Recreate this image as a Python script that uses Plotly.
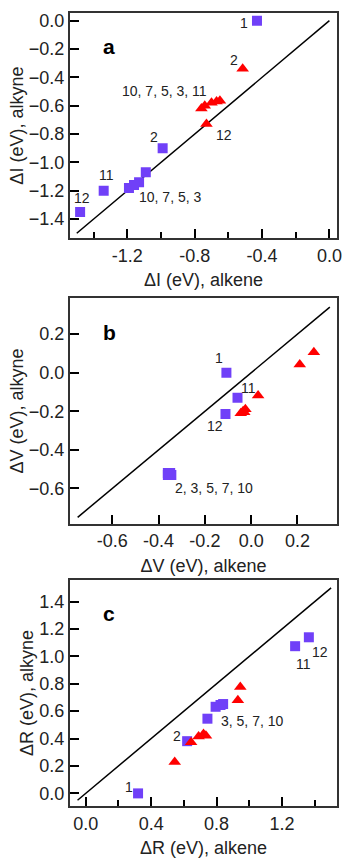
import plotly.graph_objects as go

# Panel a: ionization energy shifts
a_blue_x = [-0.43, -0.99, -1.09, -1.13, -1.16, -1.19, -1.34, -1.48]
a_blue_y = [0.00, -0.90, -1.07, -1.14, -1.16, -1.18, -1.20, -1.35]
a_red_x = [-0.515, -0.73, -0.76, -0.74, -0.70, -0.67, -0.65]
a_red_y = [-0.34, -0.73, -0.62, -0.60, -0.58, -0.57, -0.565]

# Panel b
b_blue_x = [-0.107, -0.059, -0.111, -0.36, -0.355, -0.35, -0.345, -0.36]
b_blue_y = [0.00, -0.13, -0.214, -0.52, -0.525, -0.52, -0.53, -0.53]
b_red_x = [0.271, 0.21, 0.03, -0.045, -0.035, -0.025, -0.03]
b_red_y = [0.106, 0.043, -0.118, -0.21, -0.20, -0.19, -0.205]

# Panel c
c_blue_x = [0.32, 0.62, 0.744, 0.794, 0.824, 0.84, 1.28, 1.364]
c_blue_y = [0.00, 0.381, 0.545, 0.632, 0.645, 0.652, 1.074, 1.139]
c_red_x = [0.544, 0.644, 0.69, 0.72, 0.735, 0.93, 0.945]
c_red_y = [0.229, 0.374, 0.415, 0.434, 0.42, 0.68, 0.777]

# diagonal lines
a_line = [-1.5, 0.0]
b_line = [-0.75, 0.34]
c_line = [-0.05, 1.5]

# labels: (text, x, y)
a_labels = [("1", -0.505, -0.02), ("2", -0.569, -0.275),
            ("10, 7, 5, 3, 11", -0.98, -0.497), ("12", -0.627, -0.807),
            ("2", -1.04, -0.819), ("11", -1.326, -1.092),
            ("10, 7, 5, 3", -0.947, -1.243), ("12", -1.471, -1.25)]
b_labels = [("1", -0.14, 0.077), ("11", -0.012, -0.079),
            ("12", -0.158, -0.274), ("2, 3, 5, 7, 10", -0.161, -0.598)]
c_labels = [("1", 0.264, 0.043), ("2", 0.558, 0.422),
            ("3, 5, 7, 10", 1.018, 0.526), ("11", 1.334, 0.946),
            ("12", 1.434, 1.033)]

BLUE = "#7040F8"
RED = "#FF0000"
FONT = "Liberation Sans, Arial, sans-serif"
TXT = "#222"

fig = go.Figure()

panels = [
    (a_blue_x, a_blue_y, a_red_x, a_red_y, a_line, a_labels, "a", "", "ΔI (eV), alkene", "ΔI (eV), alkyne",
     [-1.54, 0.045], [-1.535, 0.054], [-1.2, -0.8, -0.4, 0.0], 0.2, 0.2,
     [0.716, 1.0]),
    (b_blue_x, b_blue_y, b_red_x, b_red_y, b_line, b_labels, "b", "2", "ΔV (eV), alkene", "ΔV (eV), alkyne",
     [-0.783, 0.371], [-0.783, 0.385], [-0.6, -0.4, -0.2, 0.0, 0.2], None, 0.2,
     [0.356, 0.640]),
    (c_blue_x, c_blue_y, c_red_x, c_red_y, c_line, c_labels, "c", "3", "ΔR (eV), alkene", "ΔR (eV), alkyne",
     [-0.096, 1.536], [-0.092, 1.557], [0.0, 0.4, 0.8, 1.2], 0.2, 0.2,
     [0.0, 0.285]),
]

for (bx, by, rx, ry, ln, labels, letter, sfx, xt, yt, xr, yr, xticks, xminor, ydt, ydom) in panels:
    xa = "x" + sfx
    ya = "y" + sfx
    fig.add_trace(go.Scatter(x=ln, y=ln, mode="lines", line=dict(color="black", width=1.5),
                             xaxis=xa, yaxis=ya, showlegend=False, hoverinfo="skip"))
    fig.add_trace(go.Scatter(x=bx, y=by, mode="markers",
                             marker=dict(symbol="square", size=10, color=BLUE, line=dict(width=0)),
                             xaxis=xa, yaxis=ya, showlegend=False))
    fig.add_trace(go.Scatter(x=rx, y=ry, mode="markers",
                             marker=dict(symbol="triangle-up", size=11, color=RED, line=dict(width=0)),
                             xaxis=xa, yaxis=ya, showlegend=False))
    for (t, lx, ly) in labels:
        fig.add_annotation(text=t, x=lx, y=ly, xref=xa, yref=ya, showarrow=False,
                           xanchor="center", yanchor="middle",
                           font=dict(size=14, color=TXT, family=FONT))
    fig.add_annotation(text="<b>" + letter + "</b>", x=0.117, y=0.91,
                       xref=xa + " domain", yref=ya + " domain", showarrow=False,
                       font=dict(size=21, color="black", family=FONT))
    xkey = "xaxis" + sfx
    ykey = "yaxis" + sfx
    xdict = dict(range=xr, domain=[0, 1], anchor=ya, tickvals=xticks,
                 ticktext=[f"{v:.1f}" for v in xticks],
                 ticks="inside", ticklen=9, tickwidth=1.5, tickcolor="black",
                 showline=True, linecolor="#333", linewidth=2, mirror=True,
                 showgrid=False, zeroline=False,
                 title=dict(text=xt, font=dict(size=18, family=FONT, color=TXT), standoff=9),
                 tickfont=dict(size=18, family=FONT, color=TXT))
    if xminor:
        xdict["minor"] = dict(dtick=xminor, ticks="inside", ticklen=6, tickwidth=1.5,
                              tickcolor="black", showgrid=False)
    fig.layout[xkey] = xdict
    fig.layout[ykey] = dict(range=yr, domain=ydom, anchor=xa, dtick=ydt, tick0=0,
                            tickformat=".1f",
                            ticks="inside", ticklen=9, tickwidth=1.5, tickcolor="black",
                            showline=True, linecolor="#333", linewidth=2, mirror=True,
                            showgrid=False, zeroline=False,
                            title=dict(text=yt, font=dict(size=18, family=FONT, color=TXT), standoff=1),
                            tickfont=dict(size=18, family=FONT, color=TXT))

fig.update_layout(width=348, height=861, margin=dict(l=70, r=6, t=13, b=48),
                  plot_bgcolor="white", paper_bgcolor="white",
                  font=dict(family=FONT))

fig.write_html("out.html")
